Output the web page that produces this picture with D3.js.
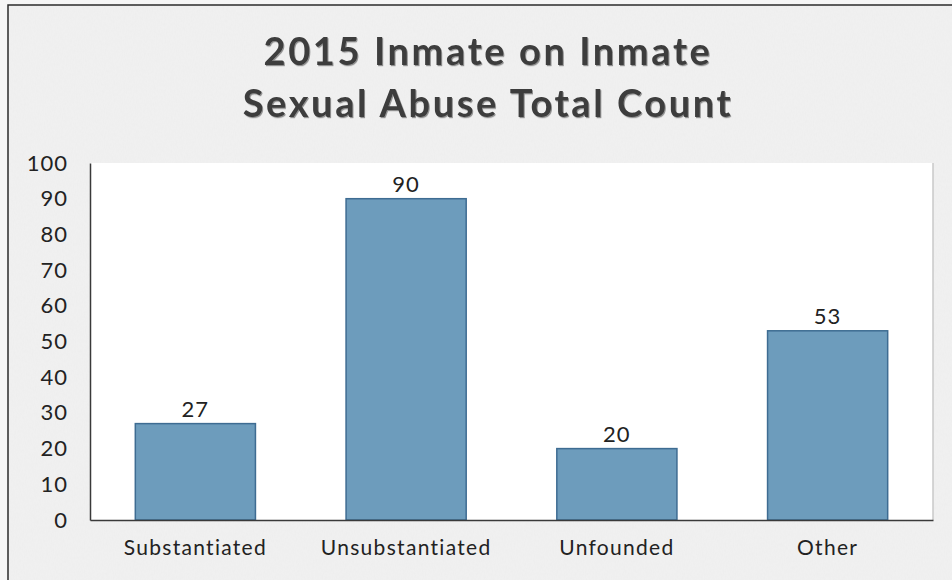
<!DOCTYPE html>
<html>
<head>
<meta charset="utf-8">
<script src="https://cdn.jsdelivr.net/npm/d3@7"></script>
<style>
  html, body { margin: 0; padding: 0; background: #ffffff; }
  svg { display: block; }
  text { font-family: "Lato", "DejaVu Sans", sans-serif; }
</style>
</head>
<body>
<svg id="chart" width="952" height="580"></svg>
<script>
// Chart data
const titleLines = ["2015 Inmate on Inmate", "Sexual Abuse Total Count"];
const categories = ["Substantiated", "Unsubstantiated", "Unfounded", "Other"];
const counts = [27, 90, 20, 53];
const yTicks = [0, 10, 20, 30, 40, 50, 60, 70, 80, 90, 100];

const svg = d3.select("#chart");
const W = 952, H = 580;
const plot = { left: 90, right: 933, top: 163, bottom: 520 };

// subtle paper grain for the panel background
const defs = svg.append("defs");
const grain = defs.append("filter").attr("id", "grain")
  .attr("x", 0).attr("y", 0).attr("width", "100%").attr("height", "100%");
grain.append("feTurbulence").attr("type", "fractalNoise")
  .attr("baseFrequency", "0.9 0.3").attr("numOctaves", 2).attr("seed", 3).attr("result", "noise");
grain.append("feColorMatrix").attr("in", "noise").attr("type", "matrix")
  .attr("values", "0 0 0 0 0.6  0 0 0 0 0.6  0 0 0 0 0.6  0 0 0 0.09 0")
  .attr("result", "tint");
grain.append("feComposite").attr("in", "tint").attr("in2", "SourceGraphic").attr("operator", "in");

const shadow = defs.append("filter").attr("id", "titleShadow")
  .attr("x", "-5%").attr("y", "-20%").attr("width", "110%").attr("height", "140%");
shadow.append("feDropShadow").attr("dx", 1).attr("dy", 1.2).attr("stdDeviation", 0.6)
  .attr("flood-color", "#000").attr("flood-opacity", 0.4);

// panel background and frame
svg.append("rect").attr("x", 0).attr("y", 0).attr("width", W).attr("height", H).attr("fill", "#f6f6f6");
svg.append("rect").attr("x", 8).attr("y", 5).attr("width", W).attr("height", H)
  .attr("fill", "#f1f1f1").attr("stroke", "#2b2b2b").attr("stroke-width", 1.5);
svg.append("rect").attr("x", 9).attr("y", 6).attr("width", W).attr("height", H)
  .attr("fill", "#ffffff").attr("filter", "url(#grain)");

// title
const title = svg.append("text")
  .attr("text-anchor", "middle")
  .attr("font-size", 38).attr("font-weight", 700)
  .attr("fill", "#3c3c3c")
  .attr("letter-spacing", 2.6)
  .attr("filter", "url(#titleShadow)");
title.selectAll("tspan").data(titleLines).join("tspan")
  .attr("x", 488)
  .attr("y", (d, i) => i === 0 ? 65 : 117)
  .text(d => d);

// plot area
svg.append("rect")
  .attr("x", plot.left).attr("y", plot.top)
  .attr("width", plot.right - plot.left).attr("height", plot.bottom - plot.top)
  .attr("fill", "#ffffff");
svg.append("line")
  .attr("x1", plot.right).attr("x2", plot.right)
  .attr("y1", plot.top).attr("y2", plot.bottom)
  .attr("stroke", "#c9c9c9").attr("stroke-width", 1.5);

const x = d3.scaleBand()
  .domain(categories)
  .range([plot.left, plot.right])
  .paddingInner(0.43)
  .paddingOuter(0.215);

const y = d3.scaleLinear()
  .domain([0, 100])
  .range([plot.bottom, plot.top]);

// bars
svg.append("g").selectAll("rect")
  .data(categories)
  .join("rect")
  .attr("x", d => x(d))
  .attr("y", (d, i) => y(counts[i]))
  .attr("width", x.bandwidth())
  .attr("height", (d, i) => y(0) - y(counts[i]))
  .attr("fill", "#6d9cbc")
  .attr("stroke", "#3e6c92")
  .attr("stroke-width", 1.5);

// value labels
svg.append("g").selectAll("text")
  .data(categories)
  .join("text")
  .attr("x", d => x(d) + x.bandwidth() / 2)
  .attr("y", (d, i) => y(counts[i]) - 7)
  .attr("text-anchor", "middle")
  .attr("font-size", 22)
  .attr("letter-spacing", 1)
  .attr("fill", "#222")
  .text((d, i) => counts[i]);

// y axis
const yAxis = svg.append("g")
  .attr("transform", `translate(${plot.left},0)`)
  .call(d3.axisLeft(y).tickValues(yTicks).tickSize(0).tickPadding(22));
yAxis.select(".domain").attr("stroke", "#3a3a3a").attr("stroke-width", 1.5);
yAxis.selectAll("text")
  .attr("font-size", 22).attr("fill", "#222")
  .attr("letter-spacing", 1)
  .attr("font-family", "Lato, 'DejaVu Sans', sans-serif");

// x axis
const xAxis = svg.append("g")
  .attr("transform", `translate(0,${plot.bottom})`)
  .call(d3.axisBottom(x).tickSize(0).tickPadding(20));
xAxis.select(".domain").attr("stroke", "#3a3a3a").attr("stroke-width", 1.5);
xAxis.selectAll("text")
  .attr("font-size", 21).attr("fill", "#222")
  .attr("letter-spacing", 1.3)
  .attr("font-family", "Lato, 'DejaVu Sans', sans-serif");
</script>
</body>
</html>
